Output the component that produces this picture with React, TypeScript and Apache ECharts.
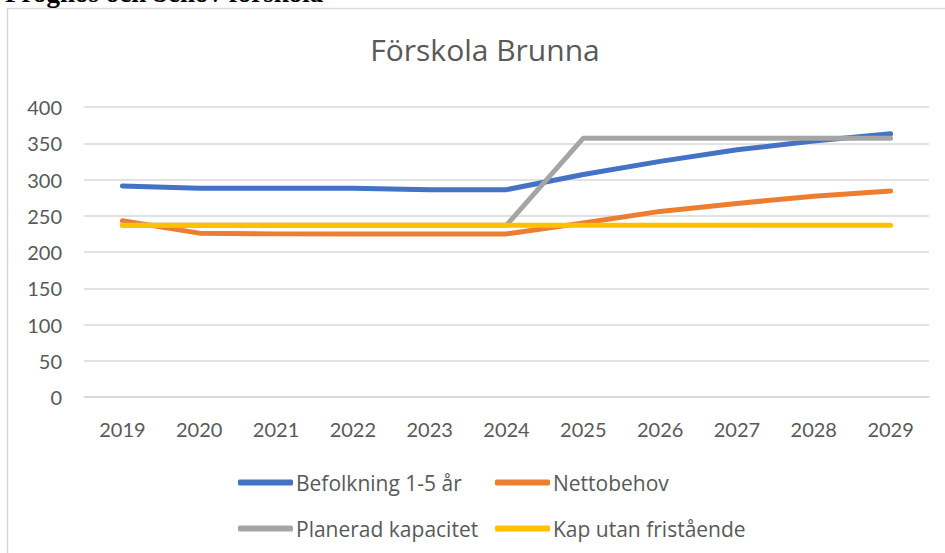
import React, { useEffect, useRef } from "react";
import * as echarts from "echarts";

const years = ["2019", "2020", "2021", "2022", "2023", "2024", "2025", "2026", "2027", "2028", "2029"];
const befolkning = [291, 288, 288, 288, 286, 286, 307, 325, 341, 353, 363];
const nettobehov = [243, 226, 225, 225, 225, 225, 240, 256, 267, 277, 284];
const planerad = [237, 237, 237, 237, 237, 237, 357, 357, 357, 357, 357];
const kapUtan = [237, 237, 237, 237, 237, 237, 237, 237, 237, 237, 237];

const names = ["Befolkning 1-5 år", "Nettobehov", "Planerad kapacitet", "Kap utan fristående"];
const colors = ["#4472C4", "#ED7D31", "#A5A5A5", "#FFC000"];
const values = [befolkning, nettobehov, planerad, kapUtan];

const FONT = "Lato, 'Open Sans', sans-serif";
const FONT_WIDE = "'Open Sans', Lato, sans-serif";
const GREY_TEXT = "#595959";

export default function App() {
  const ref = useRef<HTMLDivElement>(null);
  useEffect(() => {
    if (!ref.current) return;
    const chart = echarts.init(ref.current, undefined, { renderer: "svg" });
    const legendText = { color: GREY_TEXT, fontSize: 21, fontFamily: FONT_WIDE, padding: [0, 0, 0, -2] };
    const legendBase = {
      orient: "vertical",
      top: 467,
      height: 90,
      itemWidth: 55,
      itemHeight: 6,
      itemGap: 25,
      icon: "roundRect",
      textStyle: legendText,
    };
    chart.setOption({
      animation: false,
      backgroundColor: "#ffffff",
      title: {
        text: "Förskola Brunna",
        left: 480,
        top: 29,
        textAlign: "center",
        textStyle: { color: GREY_TEXT, fontSize: 30, fontWeight: "normal", fontFamily: FONT_WIDE },
      },
      graphic: [
        {
          type: "rect",
          shape: { x: 7.5, y: 8.5, width: 960, height: 570 },
          style: { fill: "none", stroke: "#d9d9d9", lineWidth: 1.5 },
          silent: true,
        },
        {
          type: "text",
          x: 5,
          y: 6,
          style: {
            text: "Prognos och behov förskola",
            font: "bold 27px 'Liberation Serif', serif",
            fill: "#000000",
            verticalAlign: "bottom",
          },
        },
      ],
      legend: [
        { ...legendBase, data: [names[0], names[2]], left: 233 },
        { ...legendBase, data: [names[1], names[3]], left: 490 },
      ],
      grid: { left: 84, right: 16, top: 107, bottom: 156, containLabel: false },
      xAxis: {
        type: "category",
        data: years,
        boundaryGap: true,
        axisLine: { show: true, lineStyle: { color: "#d9d9d9", width: 1.5 } },
        axisTick: { show: false },
        axisLabel: { color: GREY_TEXT, fontSize: 20, fontFamily: FONT, margin: 22 },
      },
      yAxis: {
        type: "value",
        min: 0,
        max: 400,
        interval: 50,
        axisLine: { show: false },
        axisTick: { show: false },
        axisLabel: { color: GREY_TEXT, fontSize: 20, fontFamily: FONT, margin: 22 },
        splitLine: { lineStyle: { color: "#d9d9d9", width: 1.5 } },
      },
      series: names.map((n, i) => ({
        name: n,
        type: "line",
        data: values[i],
        symbol: "none",
        showSymbol: false,
        color: colors[i],
        lineStyle: { color: colors[i], width: 5, cap: "round", join: "round" },
        itemStyle: { color: colors[i] },
      })),
    });
    return () => chart.dispose();
  }, []);
  return (
    <div
      ref={ref}
      style={{ position: "absolute", left: 0, top: 0, width: 945, height: 553 }}
    />
  );
}
